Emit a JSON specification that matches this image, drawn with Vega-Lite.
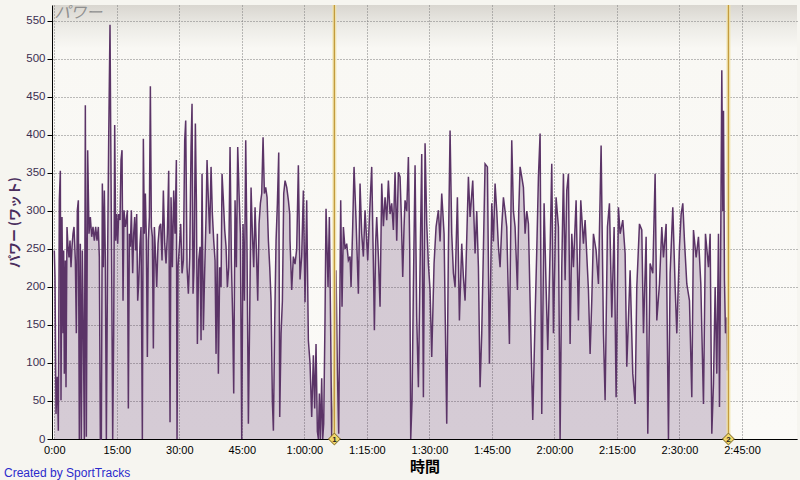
{
  "$schema": "https://vega.github.io/schema/vega-lite/v6.json",
  "width": 745,
  "height": 434,
  "autosize": {"type": "none"},
  "padding": {"left": 52, "top": 5, "right": 3, "bottom": 41},
  "background": "#f6f5f0",
  "config": {
    "font": "Liberation Sans",
    "view": {
      "stroke": null,
      "fill": {
        "gradient": "linear", "x1": 0, "y1": 0, "x2": 0, "y2": 1,
        "stops": [
          {"offset": 0, "color": "#d9d6d0"},
          {"offset": 0.05, "color": "#ecebe6"},
          {"offset": 0.1, "color": "#f9f8f4"},
          {"offset": 1, "color": "#fbfaf7"}
        ]
      }
    },
    "axisY": {
      "grid": true, "gridColor": "#7a7a7a", "gridDash": [1, 2], "gridWidth": 1,
      "domainColor": "#000000", "domainWidth": 1,
      "tickColor": "#000000", "tickSize": 5,
      "labelColor": "#3b2e50", "labelFont": "Liberation Sans", "labelFontSize": 11.5, "labelPadding": 2,
      "labelFlush": false, "labelOverlap": false,
      "titleFont": "Noto Sans CJK JP", "titleFontSize": 13, "titleFontWeight": "bold", "titleColor": "#4a2d5c", "titlePadding": 4
    },
    "axisX": {
      "grid": true, "gridColor": "#7a7a7a", "gridDash": [1, 2], "gridWidth": 1,
      "ticks": false,
      "domainColor": "#000000", "domainWidth": 1,
      "labelColor": "#000000", "labelFont": "Liberation Sans", "labelFontSize": 11, "labelPadding": 5,
      "labelFlush": false, "labelOverlap": false,
      "titleFont": "Noto Sans CJK JP", "titleFontSize": 15, "titleFontWeight": "bold", "titleColor": "#000000", "titlePadding": 4
    }
  },
  "title": {
    "text": "Created by SportTracks",
    "orient": "bottom",
    "anchor": "start",
    "frame": "group",
    "offset": -6,
    "dx": -48,
    "font": "Liberation Sans",
    "fontSize": 12,
    "fontWeight": "normal",
    "color": "#2b2bcc"
  },
  "datasets": {
    "power": [
      {"t":0,"w":248},{"t":0.17,"w":213},{"t":0.41,"w":33},{"t":0.73,"w":82},{"t":0.97,"w":11},{"t":1.21,"w":314},{"t":1.45,"w":353},{"t":1.61,"w":51},{"t":1.85,"w":292},{"t":2.09,"w":139},{"t":2.25,"w":248},{"t":2.41,"w":86},{"t":2.65,"w":235},{"t":2.81,"w":68},{"t":3.05,"w":279},{"t":3.29,"w":253},{"t":3.53,"w":239},{"t":3.77,"w":261},{"t":4.01,"w":226},{"t":4.25,"w":253},{"t":4.49,"w":270},{"t":4.73,"w":279},{"t":5.05,"w":235},{"t":5.29,"w":139},{"t":5.53,"w":301},{"t":5.77,"w":314},{"t":6.01,"w":0},{"t":6.25,"w":257},{"t":6.49,"w":0},{"t":6.73,"w":248},{"t":6.97,"w":139},{"t":7.21,"w":0},{"t":7.45,"w":439},{"t":7.69,"w":3},{"t":8.01,"w":380},{"t":8.33,"w":270},{"t":8.65,"w":292},{"t":8.97,"w":266},{"t":9.29,"w":279},{"t":9.61,"w":261},{"t":9.93,"w":279},{"t":10.25,"w":261},{"t":10.57,"w":279},{"t":10.81,"w":239},{"t":11.05,"w":0},{"t":11.29,"w":0},{"t":11.53,"w":336},{"t":11.77,"w":226},{"t":12.01,"w":327},{"t":12.25,"w":235},{"t":12.49,"w":0},{"t":12.81,"w":253},{"t":13.05,"w":393},{"t":13.21,"w":470},{"t":13.37,"w":545},{"t":13.53,"w":410},{"t":13.77,"w":226},{"t":14.01,"w":0},{"t":14.25,"w":139},{"t":14.49,"w":413},{"t":14.73,"w":261},{"t":14.97,"w":296},{"t":15.21,"w":257},{"t":15.45,"w":296},{"t":15.77,"w":288},{"t":16.01,"w":367},{"t":16.25,"w":380},{"t":16.49,"w":182},{"t":16.73,"w":301},{"t":17.05,"w":279},{"t":17.29,"w":288},{"t":17.53,"w":301},{"t":17.77,"w":40},{"t":18.01,"w":270},{"t":18.25,"w":253},{"t":18.49,"w":301},{"t":18.81,"w":218},{"t":19.05,"w":270},{"t":19.29,"w":292},{"t":19.53,"w":248},{"t":19.77,"w":296},{"t":20.01,"w":182},{"t":20.25,"w":204},{"t":20.57,"w":257},{"t":20.81,"w":279},{"t":21.13,"w":0},{"t":21.37,"w":395},{"t":21.61,"w":270},{"t":21.85,"w":323},{"t":22.09,"w":261},{"t":22.33,"w":108},{"t":22.57,"w":261},{"t":22.81,"w":292},{"t":23.05,"w":464},{"t":23.29,"w":279},{"t":23.53,"w":266},{"t":23.77,"w":119},{"t":24.01,"w":279},{"t":24.25,"w":248},{"t":24.57,"w":200},{"t":24.89,"w":257},{"t":25.21,"w":279},{"t":25.53,"w":283},{"t":25.85,"w":235},{"t":26.17,"w":327},{"t":26.49,"w":257},{"t":26.81,"w":231},{"t":27.13,"w":270},{"t":27.45,"w":353},{"t":27.77,"w":22},{"t":28.01,"w":318},{"t":28.33,"w":226},{"t":28.65,"w":327},{"t":28.97,"w":270},{"t":29.29,"w":367},{"t":29.45,"w":0},{"t":29.69,"w":226},{"t":30.01,"w":253},{"t":30.33,"w":283},{"t":30.65,"w":218},{"t":30.97,"w":235},{"t":31.29,"w":393},{"t":31.53,"w":419},{"t":31.85,"w":226},{"t":32.17,"w":191},{"t":32.49,"w":239},{"t":32.81,"w":384},{"t":33.05,"w":441},{"t":33.29,"w":191},{"t":33.53,"w":226},{"t":33.85,"w":415},{"t":34.09,"w":314},{"t":34.33,"w":125},{"t":34.65,"w":235},{"t":34.97,"w":253},{"t":35.21,"w":130},{"t":35.45,"w":349},{"t":35.77,"w":143},{"t":36.09,"w":222},{"t":36.41,"w":292},{"t":36.65,"w":367},{"t":36.97,"w":314},{"t":37.29,"w":270},{"t":37.61,"w":358},{"t":37.93,"w":296},{"t":38.25,"w":261},{"t":38.57,"w":235},{"t":38.81,"w":112},{"t":39.13,"w":270},{"t":39.37,"w":86},{"t":39.69,"w":226},{"t":40.01,"w":200},{"t":40.25,"w":349},{"t":40.57,"w":314},{"t":40.89,"w":275},{"t":41.21,"w":253},{"t":41.53,"w":200},{"t":41.85,"w":226},{"t":42.17,"w":384},{"t":42.49,"w":235},{"t":42.81,"w":156},{"t":43.05,"w":60},{"t":43.37,"w":314},{"t":43.69,"w":226},{"t":44.01,"w":384},{"t":44.33,"w":323},{"t":44.65,"w":270},{"t":44.97,"w":0},{"t":45.29,"w":283},{"t":45.61,"w":182},{"t":45.93,"w":393},{"t":46.25,"w":244},{"t":46.57,"w":20},{"t":46.89,"w":165},{"t":47.21,"w":331},{"t":47.53,"w":270},{"t":47.85,"w":226},{"t":48.17,"w":305},{"t":48.49,"w":248},{"t":48.81,"w":182},{"t":49.13,"w":283},{"t":49.45,"w":310},{"t":49.77,"w":323},{"t":50.09,"w":397},{"t":50.41,"w":323},{"t":50.73,"w":331},{"t":51.05,"w":318},{"t":51.37,"w":261},{"t":51.69,"w":226},{"t":52.01,"w":182},{"t":52.33,"w":49},{"t":52.57,"w":11},{"t":52.89,"w":156},{"t":53.21,"w":261},{"t":53.53,"w":310},{"t":53.85,"w":377},{"t":54.09,"w":29},{"t":54.41,"w":139},{"t":54.73,"w":182},{"t":55.05,"w":323},{"t":55.37,"w":340},{"t":55.77,"w":331},{"t":56.17,"w":314},{"t":56.49,"w":296},
      {"t":56.56,"w":261},{"t":56.96,"w":196},{"t":57.36,"w":240},{"t":57.76,"w":230},{"t":58.16,"w":250},{"t":58.56,"w":360},{"t":58.96,"w":210},{"t":59.36,"w":240},{"t":59.76,"w":327},{"t":60.16,"w":180},{"t":60.56,"w":314},{"t":60.96,"w":130},{"t":61.36,"w":100},{"t":61.76,"w":29},{"t":62.16,"w":110},{"t":62.48,"w":40},{"t":62.8,"w":125},{"t":63.12,"w":10},{"t":63.36,"w":0},{"t":63.6,"w":60},{"t":63.84,"w":0},{"t":64.16,"w":80},{"t":64.4,"w":0},{"t":64.64,"w":20},{"t":64.96,"w":160},{"t":65.2,"w":303},{"t":65.68,"w":200},{"t":66,"w":292},{"t":66.32,"w":140},{"t":66.56,"w":0},{"t":66.96,"w":50},{"t":67.6,"w":222},{"t":67.92,"w":90},{"t":68.24,"w":7},{"t":68.72,"w":314},{"t":69.04,"w":174},{"t":69.36,"w":279},{"t":69.76,"w":250},{"t":70.16,"w":257},{"t":70.56,"w":235},{"t":70.96,"w":240},{"t":71.2,"w":200},{"t":71.6,"w":280},{"t":71.92,"w":358},{"t":72.4,"w":288},{"t":72.96,"w":191},{"t":73.36,"w":336},{"t":73.76,"w":270},{"t":74.16,"w":240},{"t":74.56,"w":301},{"t":74.96,"w":260},{"t":75.2,"w":235},{"t":75.6,"w":290},{"t":76.16,"w":358},{"t":76.56,"w":230},{"t":76.8,"w":143},{"t":77.12,"w":260},{"t":77.36,"w":292},{"t":77.76,"w":240},{"t":78.16,"w":174},{"t":78.56,"w":336},{"t":78.96,"w":280},{"t":79.36,"w":318},{"t":79.76,"w":288},{"t":80.16,"w":340},{"t":80.56,"w":296},{"t":80.96,"w":310},{"t":81.36,"w":275},{"t":81.76,"w":351},{"t":82.16,"w":261},{"t":82.56,"w":351},{"t":82.96,"w":345},{"t":83.28,"w":290},{"t":83.6,"w":213},{"t":83.92,"w":280},{"t":84.16,"w":314},{"t":84.56,"w":300},{"t":84.96,"w":371},{"t":85.28,"w":250},{"t":85.52,"w":0},{"t":85.84,"w":51},{"t":86.16,"w":200},{"t":86.56,"w":360},{"t":86.96,"w":160},{"t":87.36,"w":68},{"t":87.76,"w":226},{"t":88.16,"w":375},{"t":88.56,"w":55},{"t":88.96,"w":389},{"t":89.36,"w":283},{"t":89.76,"w":230},{"t":90.16,"w":196},{"t":90.56,"w":108},{"t":91.12,"w":231},{"t":91.6,"w":279},{"t":92.16,"w":301},{"t":92.56,"w":260},{"t":92.96,"w":323},{"t":93.52,"w":270},{"t":94.16,"w":20},{"t":94.56,"w":250},{"t":94.96,"w":406},{"t":95.36,"w":270},{"t":95.76,"w":218},{"t":96.16,"w":200},{"t":96.72,"w":318},{"t":97.2,"w":156},{"t":97.76,"w":257},{"t":98.16,"w":213},{"t":98.56,"w":182},{"t":99.36,"w":345},{"t":99.76,"w":292},{"t":100.4,"w":340},{"t":100.96,"w":244},{"t":101.36,"w":300},{"t":101.76,"w":226},{"t":102.16,"w":68},{"t":102.56,"w":139},{"t":102.96,"w":250},{"t":103.36,"w":362},{"t":103.92,"w":358},{"t":104.4,"w":99},{"t":104.96,"w":310},{"t":105.36,"w":260},{"t":105.76,"w":336},{"t":106.16,"w":300},{"t":106.56,"w":253},{"t":106.96,"w":226},{"t":107.36,"w":280},{"t":107.76,"w":318},{"t":108.16,"w":300},{"t":108.56,"w":279},{"t":109.2,"w":125},{"t":109.76,"w":393},{"t":110.16,"w":300},{"t":110.56,"w":279},{"t":111.12,"w":196},{"t":111.44,"w":300},{"t":111.76,"w":358},
      {"t":112.16,"w":345},{"t":112.56,"w":331},{"t":112.96,"w":270},{"t":113.36,"w":300},{"t":113.76,"w":283},{"t":114.16,"w":182},{"t":114.8,"w":25},{"t":115.36,"w":160},{"t":115.76,"w":248},{"t":116.16,"w":345},{"t":116.56,"w":402},{"t":116.96,"w":33},{"t":117.52,"w":310},{"t":118,"w":200},{"t":118.4,"w":117},{"t":118.96,"w":248},{"t":119.36,"w":362},{"t":119.76,"w":139},{"t":120.4,"w":318},{"t":120.96,"w":279},{"t":121.36,"w":0},{"t":121.76,"w":226},{"t":122.16,"w":349},{"t":122.56,"w":209},{"t":122.96,"w":327},{"t":123.36,"w":349},{"t":123.76,"w":125},{"t":124.16,"w":270},{"t":124.56,"w":226},{"t":125.2,"w":314},{"t":125.76,"w":156},{"t":126.32,"w":314},{"t":126.96,"w":257},{"t":127.36,"w":288},{"t":128.16,"w":196},{"t":128.56,"w":112},{"t":128.96,"w":182},{"t":129.36,"w":270},{"t":130,"w":248},{"t":130.56,"w":204},{"t":131.2,"w":386},{"t":131.76,"w":139},{"t":132.16,"w":51},{"t":132.72,"w":279},{"t":133.2,"w":310},{"t":133.76,"w":160},{"t":134.32,"w":279},{"t":134.8,"w":55},{"t":135.36,"w":305},{"t":135.76,"w":270},{"t":136.4,"w":288},{"t":136.96,"w":244},{"t":137.36,"w":95},{"t":138.16,"w":222},{"t":138.8,"w":86},{"t":139.36,"w":46},{"t":139.76,"w":200},{"t":140.4,"w":283},{"t":140.96,"w":275},{"t":141.36,"w":139},{"t":142,"w":266},{"t":142.4,"w":7},{"t":142.96,"w":231},{"t":143.6,"w":218},{"t":144.16,"w":349},{"t":144.56,"w":156},{"t":145.2,"w":204},{"t":145.76,"w":279},{"t":146.16,"w":239},{"t":146.8,"w":283},{"t":147.36,"w":0},{"t":147.76,"w":218},{"t":148.4,"w":305},{"t":148.96,"w":200},{"t":149.36,"w":139},{"t":150,"w":253},{"t":150.4,"w":296},{"t":150.8,"w":310},{"t":151.2,"w":261},{"t":151.76,"w":204},{"t":152.4,"w":182},{"t":152.96,"w":55},{"t":153.36,"w":275},{"t":154,"w":239},{"t":154.56,"w":266},{"t":155.12,"w":204},{"t":155.76,"w":46},{"t":156.24,"w":270},{"t":156.96,"w":226},{"t":157.36,"w":270},{"t":157.76,"w":7},{"t":158.16,"w":73},{"t":158.56,"w":200},{"t":158.96,"w":86},{"t":159.36,"w":270},{"t":159.6,"w":42},{"t":159.92,"w":279},{"t":160.16,"w":485},{"t":160.4,"w":300},{"t":160.56,"w":432},{"t":160.8,"w":209},{"t":161.04,"w":139},{"t":161.36,"w":160},{"t":161.52,"w":90}
    ],
    "markers": [
      {"t": 67.2, "n": "1"},
      {"t": 161.75, "n": "2"}
    ]
  },
  "encoding": {
    "x": {
      "type": "quantitative",
      "scale": {"domain": [-0.55, 178.2], "nice": false, "zero": false},
      "axis": {
        "title": "時間",
        "values": [0, 15, 30, 45, 60, 75, 90, 105, 120, 135, 150, 165],
        "labelExpr": "datum.value < 60 ? datum.value + ':00' : floor(datum.value / 60) + ':' + (datum.value % 60 < 10 ? '0' : '') + (datum.value % 60) + ':00'"
      }
    },
    "y": {
      "type": "quantitative",
      "scale": {"domain": [0, 571], "nice": false, "zero": true},
      "axis": {
        "title": "パワー (ワット)",
        "values": [0, 50, 100, 150, 200, 250, 300, 350, 400, 450, 500, 550]
      }
    }
  },
  "layer": [
    {
      "data": {"name": "power"},
      "mark": {"type": "area", "color": "#5b3467", "opacity": 0.235, "interpolate": "linear"},
      "encoding": {"x": {"field": "t"}, "y": {"field": "w"}}
    },
    {
      "data": {"name": "power"},
      "mark": {"type": "line", "color": "#5b3467", "strokeWidth": 1.5, "interpolate": "linear"},
      "encoding": {"x": {"field": "t"}, "y": {"field": "w"}}
    },
    {
      "data": {"name": "markers"},
      "mark": {"type": "rule", "color": "#f1e3a8", "strokeWidth": 4, "opacity": 0.85},
      "encoding": {"x": {"field": "t"}, "y": null}
    },
    {
      "data": {"name": "markers"},
      "mark": {"type": "rule", "color": "#c29b3e", "strokeWidth": 1.3},
      "encoding": {"x": {"field": "t"}, "y": null}
    },
    {
      "data": {"name": "markers"},
      "mark": {"type": "point", "shape": "diamond", "filled": true, "size": 140, "fill": "#f0d66a", "stroke": "#7a6420", "strokeWidth": 1, "opacity": 1},
      "encoding": {"x": {"field": "t"}, "y": {"datum": 0}}
    },
    {
      "data": {"name": "markers"},
      "mark": {"type": "text", "fontSize": 8, "fontWeight": "bold", "color": "#222222", "align": "center", "baseline": "middle", "dy": 0.5},
      "encoding": {"x": {"field": "t"}, "y": {"datum": 0}, "text": {"field": "n"}}
    },
    {
      "data": {"values": [{}]},
      "mark": {"type": "text", "font": "Noto Sans CJK JP", "fontSize": 16, "fontStyle": "italic", "color": "#8f8f8f", "align": "left", "baseline": "middle"},
      "encoding": {"x": {"datum": 0}, "y": {"datum": 560}, "text": {"value": "パワー"}}
    }
  ]
}
